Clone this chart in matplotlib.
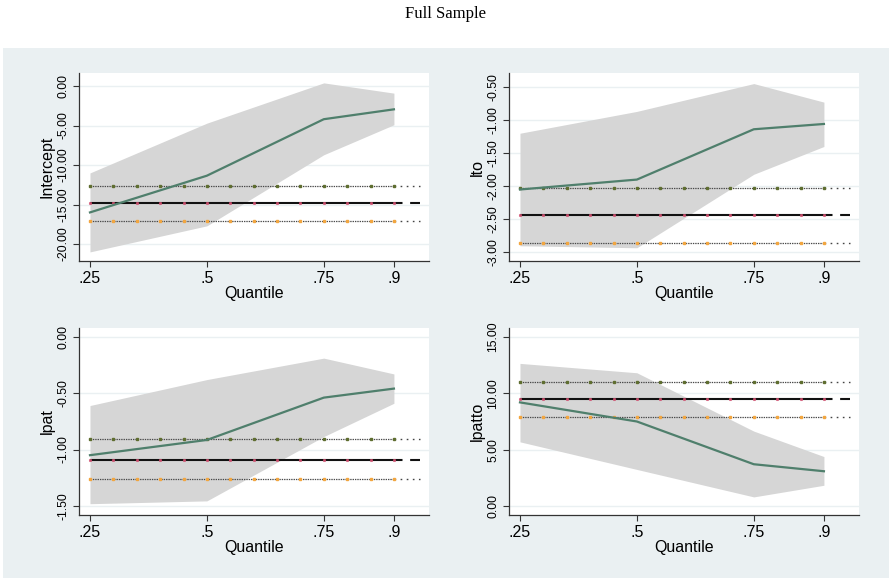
"""Quantile-regression coefficient plots (Full Sample), Stata grqreg style."""
import matplotlib
matplotlib.use("Agg")
import matplotlib.pyplot as plt
from matplotlib.patches import Rectangle
from matplotlib.ticker import FormatStrFormatter

plt.rcParams["font.family"] = ["Liberation Sans", "DejaVu Sans"]
plt.rcParams["lines.scale_dashes"] = False

# quantiles estimated
quantiles = [0.25, 0.5, 0.75, 0.9]
# where the OLS reference lines end, and the marker positions along them
ols_span = [0.25, 0.956]
mark_q = [0.25, 0.30, 0.35, 0.40, 0.45, 0.50, 0.55, 0.60, 0.65, 0.70,
          0.75, 0.80, 0.85, 0.90]

# Intercept
int_coef = [-16.0, -11.35, -4.2, -2.95]
int_hi = [-11.0, -4.7, 0.4, -0.9]
int_lo = [-21.0, -17.7, -8.7, -4.9]
int_ols = [-14.85, -12.6, -17.05]  # estimate, upper CI, lower CI
int_ticks = [0.0, -5.0, -10.0, -15.0, -20.0]

# lto
lto_coef = [-2.05, -1.90, -1.14, -1.06]
lto_hi = [-1.20, -0.87, -0.45, -0.73]
lto_lo = [-2.90, -2.93, -1.82, -1.40]
lto_ols = [-2.44, -2.02, -2.86]
lto_ticks = [-0.5, -1.0, -1.5, -2.0, -2.5, -3.0]

# lpat
lpat_coef = [-1.05, -0.915, -0.54, -0.46]
lpat_hi = [-0.61, -0.38, -0.19, -0.33]
lpat_lo = [-1.48, -1.455, -0.885, -0.59]
lpat_ols = [-1.09, -0.905, -1.26]
lpat_ticks = [0.0, -0.5, -1.0, -1.5]

# lpatto
lpatto_coef = [9.19, 7.5, 3.72, 3.1]
lpatto_hi = [12.64, 11.81, 6.65, 4.4]
lpatto_lo = [5.7, 3.26, 0.83, 1.86]
lpatto_ols = [9.46, 10.96, 7.92]
lpatto_ticks = [15.0, 10.0, 5.0, 0.0]

PANEL_BG = "#eaf0f2"
GREEN = "#4f7f6c"
SHADE = "#d6d6d6"

W, H = 891, 582
fig = plt.figure(figsize=(W / 100, H / 100), dpi=100, facecolor="white")
fig.patches.append(Rectangle((3 / W, 1 - 578 / H), 886 / W, 530 / H,
                             transform=fig.transFigure, facecolor=PANEL_BG,
                             edgecolor="none", zorder=-10))
fig.text(0.5, 1 - 14 / H, "Full Sample", ha="center", va="center",
         family=["Liberation Serif", "DejaVu Serif"], fontsize=12)


def add_axes(left, top, right, bottom):
    return fig.add_axes([left / W, 1 - bottom / H, (right - left) / W,
                         (bottom - top) / H])


def panel(ax, name, coef, hi, lo, ols, ticks, ylim):
    ax.set_facecolor("white")
    for t in ticks:
        ax.axhline(t, color=PANEL_BG, lw=1.0, zorder=1)
    ax.fill_between(quantiles, lo, hi, color=SHADE, lw=0, zorder=2)
    est, up, dn = ols
    last = mark_q[-1]
    # dotted CI lines with small coloured markers, sparse dots past the end
    for y, mc in ((up, "#5f6e30"), (dn, "#f2a640")):
        ax.plot([ols_span[0], last], [y, y], ls=(0, (1.0, 0.7)),
                color="#4a4a4a", lw=0.9, zorder=3)
        ax.plot([last, ols_span[1]], [y, y], ls=(0, (1.2, 3.2)),
                color="#444444", lw=1.0, zorder=3)
        ax.plot(mark_q, [y] * len(mark_q), ls="none", marker="s", ms=1.6,
                color=mc, zorder=4)
    # OLS estimate: long dash with a gap near the end
    ax.plot(ols_span, [est, est], ls=(0, (225, 5.5)), color="#111111",
            lw=1.5, zorder=3)
    ax.plot(mark_q, [est] * len(mark_q), ls="none", marker="s", ms=1.2,
            color="#d05070", alpha=0.8, zorder=4)
    ax.plot(quantiles, coef, color=GREEN, lw=1.6, zorder=5)

    ax.set_xlim(0.2265, 0.975)
    ax.set_ylim(*ylim)
    ax.set_xticks(quantiles)
    ax.set_xticklabels([".25", ".5", ".75", ".9"], fontsize=11.5)
    ax.set_yticks(ticks)
    ax.yaxis.set_major_formatter(FormatStrFormatter("%.2f"))
    for lab in ax.get_yticklabels():
        lab.set_rotation(90)
        lab.set_va("center")
        lab.set_fontsize(8.8)
    ax.tick_params(direction="out", length=4, width=0.8, color="#333333",
                   pad=3)
    ax.set_xlabel("Quantile", fontsize=11.5, labelpad=0)
    ax.set_ylabel(name, fontsize=11.5, labelpad=2)
    for s in ("top", "right"):
        ax.spines[s].set_visible(False)
    for s in ("left", "bottom"):
        ax.spines[s].set_color("#333333")
        ax.spines[s].set_linewidth(0.9)


ax1 = add_axes(79, 73, 429, 261)
panel(ax1, "Intercept", int_coef, int_hi, int_lo, int_ols, int_ticks,
      (-22.15, 1.65))
ax2 = add_axes(509, 73, 859, 261)
panel(ax2, "lto", lto_coef, lto_hi, lto_lo, lto_ols, lto_ticks,
      (-3.13, -0.29))
ax3 = add_axes(79, 328, 429, 515)
panel(ax3, "lpat", lpat_coef, lpat_hi, lpat_lo, lpat_ols, lpat_ticks,
      (-1.58, 0.077))
ax4 = add_axes(509, 328, 859, 515)
panel(ax4, "lpatto", lpatto_coef, lpatto_hi, lpatto_lo, lpatto_ols,
      lpatto_ticks, (-0.77, 15.77))

fig.savefig("out.png", dpi=100, facecolor="white")
